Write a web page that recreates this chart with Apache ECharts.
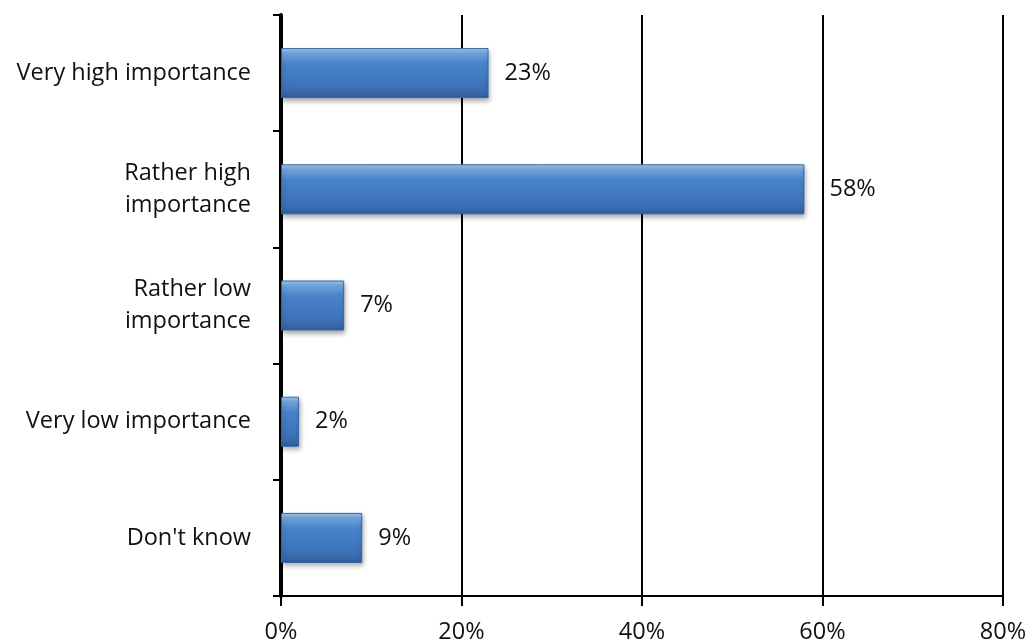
<!DOCTYPE html>
<html>
<head>
<meta charset="utf-8">
<script src="https://cdn.jsdelivr.net/npm/echarts@6/dist/echarts.min.js"></script>
<style>
  html, body { margin: 0; padding: 0; background: #fff; }
  #chart { width: 1035px; height: 644px; }
</style>
</head>
<body>
<div id="chart"></div>
<script>
// Survey answers, top to bottom
const categories = [
  'Very high importance',
  'Rather high\nimportance',
  'Rather low\nimportance',
  'Very low importance',
  "Don't know"
];
// Share of respondents, percent
const shares = [23, 58, 7, 2, 9];
// Horizontal axis ticks, percent
const xTicks = [0, 20, 40, 60, 80];

const FONT = '"Open Sans", Lato, "Liberation Sans", sans-serif';
const FONT_SIZE = 23.5;

const chart = echarts.init(document.getElementById('chart'), null, { renderer: 'canvas' });

// the long bar's label sits a little further out, clear of the 60% line
const barData = shares.map((v, i) => (
  i === 1 ? { value: v, label: { distance: 25 } } : v
));

chart.setOption({
  animation: false,
  backgroundColor: '#ffffff',
  grid: { left: 281, right: 32, top: 15, bottom: 47, containLabel: false },
  xAxis: {
    type: 'value',
    min: xTicks[0],
    max: xTicks[xTicks.length - 1],
    interval: xTicks[1] - xTicks[0],
    axisLine: { show: true, lineStyle: { color: '#000', width: 2 } },
    axisTick: { show: true, inside: false, length: 10, lineStyle: { color: '#000', width: 2 } },
    axisLabel: {
      formatter: v => v + '%',
      color: '#111',
      fontFamily: FONT,
      fontSize: FONT_SIZE,
      margin: 24
    },
    splitLine: { show: true, lineStyle: { color: '#000', width: 2 } }
  },
  yAxis: {
    type: 'category',
    inverse: true,
    data: categories,
    axisLine: { show: true, lineStyle: { color: '#000', width: 4 } },
    axisTick: { show: true, inside: false, length: 8, lineStyle: { color: '#000', width: 2 } },
    axisLabel: {
      color: '#111',
      fontFamily: FONT,
      fontSize: FONT_SIZE,
      lineHeight: 32,
      margin: 30,
      align: 'right'
    },
    splitLine: { show: false }
  },
  series: [{
    type: 'bar',
    data: barData,
    barWidth: 50,
    itemStyle: {
      color: new echarts.graphic.LinearGradient(0, 0, 0, 1, [
        { offset: 0, color: '#a6ccf0' },
        { offset: 0.12, color: '#6ea4de' },
        { offset: 0.3, color: '#4a83c9' },
        { offset: 0.75, color: '#3d73bb' },
        { offset: 0.9, color: '#3a68aa' },
        { offset: 1, color: '#2e5a96' }
      ]),
      borderColor: '#3565a5',
      borderWidth: 1,
      shadowColor: 'rgba(0,0,0,0.35)',
      shadowBlur: 5,
      shadowOffsetX: 1,
      shadowOffsetY: 3
    },
    label: {
      show: true,
      position: 'right',
      distance: 16,
      formatter: p => p.value + '%',
      color: '#111',
      fontFamily: FONT,
      fontSize: FONT_SIZE
    }
  }]
});
</script>
</body>
</html>
